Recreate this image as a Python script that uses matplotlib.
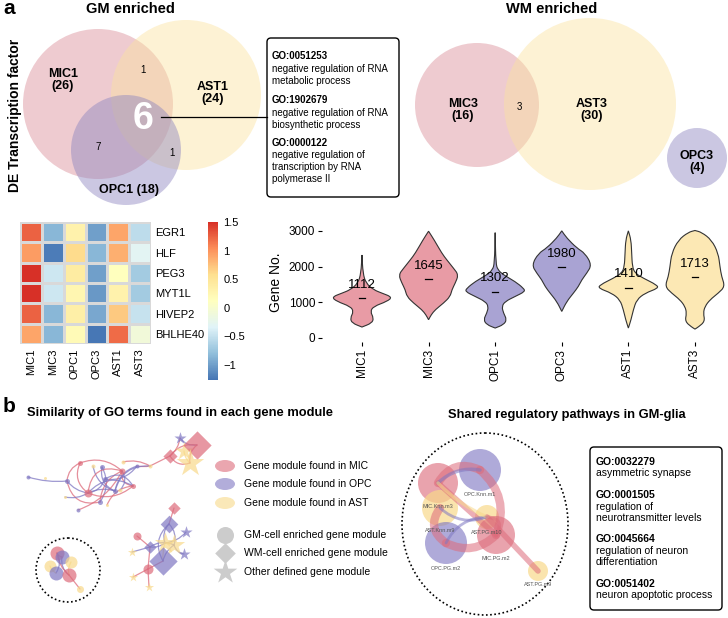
import numpy as np
import matplotlib
matplotlib.use("Agg")
import matplotlib.pyplot as plt
from matplotlib.patches import Circle, Ellipse, FancyBboxPatch, FancyArrowPatch, PathPatch
from matplotlib.path import Path
from matplotlib.colors import Normalize, LinearSegmentedColormap
import matplotlib.cm as cm

plt.rcParams['font.family'] = ['Liberation Sans', 'DejaVu Sans']

# ---------------- data ----------------
gm_sets = ["MIC1", "AST1", "OPC1"]
gm_sizes = [26, 24, 18]
gm_overlaps = {"MIC1&AST1": 1, "MIC1&OPC1": 7, "AST1&OPC1": 1, "all": 6}
wm_sets = ["MIC3", "AST3", "OPC3"]
wm_sizes = [16, 30, 4]
wm_overlap = 3
go_gm = [("GO:0051253", "negative regulation of RNA\nmetabolic process"),
         ("GO:1902679", "negative regulation of RNA\nbiosynthetic process"),
         ("GO:0000122", "negative regulation of\ntranscription by RNA\npolymerase II")]
go_shared = [("GO:0032279", "asymmetric synapse"),
             ("GO:0001505", "regulation of\nneurotransmitter levels"),
             ("GO:0045664", "regulation of neuron\ndifferentiation"),
             ("GO:0051402", "neuron apoptotic process")]

hm_genes = ["EGR1", "HLF", "PEG3", "MYT1L", "HIVEP2", "BHLHE40"]
hm_groups = ["MIC1", "MIC3", "OPC1", "OPC3", "AST1", "AST3"]
hm_values = np.array([
    [1.25, -0.85, 0.30, -1.00, 0.90, -0.55],
    [0.95, -1.22, 0.60, -0.85, 0.85, -0.30],
    [1.50, -0.45, 0.40, -1.00, 0.12, -0.70],
    [1.50, -0.45, 0.25, -1.05, 0.30, -0.70],
    [1.25, -0.85, 0.35, -0.95, 0.70, -0.50],
    [0.90, -0.85, 0.20, -1.25, 1.20, -0.10],
])
cb_ticks = [1.5, 1, 0.5, 0, -0.5, -1]
cb_ticklabels = ["1.5", "1", "0.5", "0", "\u22120.5", "\u22121"]

vio_groups = ["MIC1", "MIC3", "OPC1", "OPC3", "AST1", "AST3"]
vio_median = [1112, 1645, 1302, 1980, 1410, 1713]
# violin outlines: (gene number, half-width in 1/200 category units)
vio_profiles = [
    [(307, 0), (419, 30), (558, 35), (744, 25), (884, 35), (1023, 75), (1144, 91), (1256, 60), (1350, 35), (1535, 12), (1814, 3), (2325, 0)],
    [(512, 0), (651, 8), (791, 20), (977, 45), (1163, 65), (1349, 70), (1535, 80), (1767, 90), (1953, 75), (2185, 55), (2371, 40), (2744, 17), (2990, 0)],
    [(279, 0), (372, 25), (512, 35), (698, 25), (884, 20), (1023, 30), (1163, 60), (1302, 90), (1395, 85), (1581, 60), (1767, 25), (1907, 8), (2093, 2), (2950, 0)],
    [(744, 0), (1023, 15), (1256, 35), (1442, 50), (1628, 60), (1814, 75), (2046, 90), (2371, 70), (2520, 45), (2800, 15), (3000, 0)],
    [(279, 0), (512, 8), (791, 15), (1070, 25), (1256, 50), (1395, 90), (1488, 85), (1674, 45), (1814, 20), (2000, 12), (2371, 10), (2744, 8), (3000, 0)],
    [(250, 0), (307, 10), (465, 30), (698, 25), (884, 30), (1070, 45), (1256, 70), (1442, 90), (1721, 80), (2000, 75), (2371, 70), (2744, 50), (2960, 20), (3010, 0)],
]
vio_yticks = [0, 1000, 2000, 3000]

# network nodes: x, y (px), type, marker, radius(px)
net1_nodes = [
    (28, 477, "OPC", "o", 2), (45, 478, "AST", "o", 1.5), (67, 481, "OPC", "o", 2.5), (80, 463, "MIC", "o", 2.5),
    (65, 497, "AST", "o", 1.5), (78, 510, "OPC", "o", 2), (88, 493, "MIC", "o", 4), (93, 466, "AST", "o", 2),
    (102, 467, "OPC", "o", 2.5), (105, 479, "OPC", "o", 2.5), (100, 502, "OPC", "o", 2.5), (107, 505, "AST", "o", 1.5),
    (115, 491, "OPC", "o", 2.5), (122, 471, "MIC", "o", 3), (123, 462, "AST", "o", 2), (137, 466, "OPC", "o", 2),
    (133, 486, "MIC", "o", 2.5), (120, 490, "AST", "o", 2), (150, 466, "AST", "o", 2), (170, 456, "MIC", "D", 4),
    (180, 438, "OPC", "*", 4), (184, 451, "AST", "*", 6), (197, 445, "MIC", "D", 8), (190, 463, "AST", "*", 9),
]
net1_edges = [
    (0, 2, "OPC", 0.1), (2, 3, "MIC", -0.3), (2, 6, "OPC", 0.2), (3, 6, "MIC", 0.4), (3, 13, "MIC", -0.3),
    (6, 9, "OPC", 0.3), (6, 12, "OPC", -0.2), (6, 16, "MIC", 0.3), (2, 10, "MIC", 0.5), (8, 12, "OPC", 0.4),
    (8, 10, "OPC", -0.3), (9, 15, "OPC", 0.3), (12, 15, "OPC", -0.3), (13, 16, "MIC", 0.5), (13, 10, "MIC", 0.3),
    (14, 18, "MIC", -0.2), (15, 18, "MIC", 0.1), (18, 19, "MIC", 0.0), (19, 20, "MIC", 0.2), (19, 22, "MIC", -0.3),
    (20, 22, "OPC", 0.3), (21, 23, "AST", 0.2), (19, 23, "MIC", 0.4), (22, 23, "MIC", 0.3), (5, 13, "MIC", 0.2),
    (7, 12, "OPC", 0.3), (16, 6, "OPC", 0.4), (4, 6, "OPC", 0.2), (11, 16, "MIC", -0.3), (17, 13, "OPC", 0.4),
    (6, 13, "MIC", -0.6), (9, 16, "OPC", -0.5), (12, 18, "OPC", -0.4),
]
net2_nodes = [
    (174, 508, "MIC", "D", 3.5), (169, 524, "OPC", "D", 5), (137, 536, "MIC", "o", 4), (132, 552, "AST", "*", 3),
    (150, 547, "OPC", "D", 3.5), (165, 543, "AST", "*", 7), (174, 545, "AST", "*", 7), (186, 532, "OPC", "*", 4),
    (184, 554, "OPC", "*", 4), (163, 561, "OPC", "D", 8), (148, 569, "MIC", "o", 5), (133, 577, "AST", "*", 3),
    (149, 587, "AST", "*", 3),
]
net2_edges = [
    (0, 1, "MIC", 0.0), (1, 5, "OPC", 0.3), (1, 6, "OPC", -0.3), (2, 4, "MIC", 0.0), (3, 4, "OPC", 0.0),
    (4, 5, "OPC", 0.2), (4, 6, "OPC", -0.3), (5, 7, "OPC", 0.2), (6, 8, "OPC", 0.3), (5, 9, "AST", 0.1),
    (6, 9, "OPC", 0.2), (9, 10, "MIC", 0.0), (10, 11, "MIC", 0.0), (10, 12, "MIC", 0.0), (4, 10, "MIC", 0.0),
    (1, 9, "OPC", 0.4),
]
net3_nodes = [
    (57, 553, "MIC", "o", 7), (62, 557, "OPC", "o", 7), (71, 562, "AST", "o", 6), (50, 566, "AST", "o", 6),
    (56, 573, "OPC", "o", 7), (69, 575, "MIC", "o", 7), (80, 589, "AST", "o", 3.5),
]
net3_edges = [(0, 1, "MIC", 0.3), (1, 5, "OPC", 0.3), (0, 4, "OPC", -0.3), (3, 4, "AST", 0.2),
              (2, 5, "AST", 0.2), (5, 6, "MIC", 0.0), (0, 5, "MIC", 0.2)]
shared_nodes = [
    ("MIC.Knn.m3", 438, 483, "MIC", 20), ("OPC.Knn.m1", 480, 470, "OPC", 21), ("AST.Knn.m9", 440, 508, "AST", 18),
    ("AST.PG.m10", 487, 517, "AST", 12), ("MIC.PG.m2", 496, 535, "MIC", 19), ("OPC.PG.m2", 446, 543, "OPC", 21),
    ("AST.PG.m9", 538, 571, "AST", 10),
]
shared_edges = [
    (0, 1, "MIC", -0.45, 6), (1, 4, "MIC", -0.35, 6), (0, 4, "MIC", 0.0, 4), (3, 6, "MIC", 0.0, 4),
    (2, 5, "MIC", 0.5, 6), (5, 4, "MIC", 0.35, 6), (0, 1, "OPC", -0.25, 2.5), (2, 3, "OPC", 0.3, 2),
    (5, 3, "OPC", -0.3, 2), (0, 3, "AST", 0.1, 2.5), (4, 3, "MIC", 0.8, 2.5),
]

# ---------------- styles ----------------
W, H = 728, 618
C = {"MIC": "#DD6B7B", "OPC": "#7F77C2", "AST": "#F8D98A"}
VC = {"MIC": "#E89BA5", "OPC": "#A9A3D3", "AST": "#FCE8B4"}
hm_cmap = LinearSegmentedColormap.from_list(
    "ph", ["#4575B4", "#91BFDB", "#E0F3F8", "#FFFFBF", "#FEE090", "#FC8D59", "#D73027"])

fig = plt.figure(figsize=(W / 100, H / 100), dpi=100)


def fax(x0, y0, x1, y1):
    return [x0 / W, 1 - y1 / H, (x1 - x0) / W, (y1 - y0) / H]


ax0 = fig.add_axes([0, 0, 1, 1])
ax0.set_xlim(0, W)
ax0.set_ylim(H, 0)
ax0.axis("off")

# panel labels & titles
ax0.text(3, 9, "a", fontsize=15, fontweight="bold", va="center")
ax0.text(3, 406, "b", fontsize=15, fontweight="bold", va="center")
ax0.text(130, 9, "GM enriched", fontsize=10.5, fontweight="bold", ha="center", va="center")
ax0.text(552, 9, "WM enriched", fontsize=10.5, fontweight="bold", ha="center", va="center")
ax0.text(15, 115, "DE Transcription factor", fontsize=10, fontweight="bold", rotation=90, ha="center", va="center")
ax0.text(27, 413, "Similarity of GO terms found in each gene module", fontsize=9.3, fontweight="bold", va="center")
ax0.text(567, 415, "Shared regulatory pathways in GM-glia", fontsize=9.3, fontweight="bold", ha="center", va="center")

# GM Venn
ax0.add_patch(Circle((98, 104), 75, color="#D7848F", alpha=0.42, lw=0))
ax0.add_patch(Circle((186, 95), 75, color="#FBE3A0", alpha=0.45, lw=0))
ax0.add_patch(Circle((126, 150), 55, color="#8C84C0", alpha=0.45, lw=0))
ax0.text(63, 80, f"{gm_sets[0]}\n({gm_sizes[0]})", fontsize=9, fontweight="bold", ha="center", va="center", linespacing=1.1)
ax0.text(213, 93, f"{gm_sets[1]}\n({gm_sizes[1]})", fontsize=9, fontweight="bold", ha="center", va="center", linespacing=1.1)
ax0.text(129, 190, f"{gm_sets[2]} ({gm_sizes[2]})", fontsize=9, fontweight="bold", ha="center", va="center")
ax0.text(143, 119, str(gm_overlaps["all"]), fontsize=27, fontweight="bold", color="white", ha="center", va="center")
ax0.text(143, 70, str(gm_overlaps["MIC1&AST1"]), fontsize=7, ha="center", va="center")
ax0.text(98, 147, str(gm_overlaps["MIC1&OPC1"]), fontsize=7, ha="center", va="center")
ax0.text(172, 153, str(gm_overlaps["AST1&OPC1"]), fontsize=7, ha="center", va="center")
ax0.plot([161, 267], [117, 117], color="black", lw=0.9)
ax0.add_patch(FancyBboxPatch((267, 38), 132, 159, boxstyle="round,pad=0,rounding_size=4",
                             fc="white", ec="black", lw=1))
ys = [56, 100, 143]
for (gid, desc), y in zip(go_gm, ys):
    ax0.text(272, y, gid, fontsize=7, fontweight="bold", va="center")
    ax0.text(272, y + 7.5, desc, fontsize=7, va="top", linespacing=1.25)

# WM Venn
ax0.add_patch(Circle((477, 105), 62, color="#D7848F", alpha=0.42, lw=0))
ax0.add_patch(Circle((590, 104), 86, color="#FBE3A0", alpha=0.45, lw=0))
ax0.add_patch(Circle((697, 158), 30, color="#8C84C0", alpha=0.45, lw=0))
ax0.text(463, 110, f"{wm_sets[0]}\n({wm_sizes[0]})", fontsize=9, fontweight="bold", ha="center", va="center", linespacing=1.1)
ax0.text(592, 110, f"{wm_sets[1]}\n({wm_sizes[1]})", fontsize=9, fontweight="bold", ha="center", va="center", linespacing=1.1)
ax0.text(697, 162, f"{wm_sets[2]}\n({wm_sizes[2]})", fontsize=9, fontweight="bold", ha="center", va="center", linespacing=1.1)
ax0.text(519, 107, str(wm_overlap), fontsize=7, ha="center", va="center")

# Heatmap
axh = fig.add_axes(fax(20, 222, 151, 344))
norm = Normalize(vmin=-1.27, vmax=1.5)
axh.pcolormesh(np.arange(7), np.arange(7), hm_values, cmap=hm_cmap, norm=norm,
               edgecolors="#d9d9d9", linewidth=0.8)
axh.set_xlim(0, 6)
axh.set_ylim(6, 0)
axh.set_xticks(np.arange(6) + 0.5)
axh.set_xticklabels(hm_groups, rotation=90, fontsize=8)
axh.set_yticks(np.arange(6) + 0.5)
axh.set_yticklabels(hm_genes, fontsize=8)
axh.yaxis.tick_right()
axh.tick_params(length=0, pad=3)
for s in axh.spines.values():
    s.set_visible(False)

# Colorbar
axc = fig.add_axes(fax(208, 222, 218, 380))
cb = fig.colorbar(cm.ScalarMappable(norm=norm, cmap=hm_cmap), cax=axc)
cb.set_ticks(cb_ticks)
cb.set_ticklabels(cb_ticklabels)
cb.ax.tick_params(labelsize=8, length=0, pad=4)
cb.outline.set_visible(False)

# Violin plot
axv = fig.add_axes(fax(322, 222, 728, 342))
axv.set_xlim(0.4, 6.496)
axv.set_ylim(-112, 3248)


def smooth_closed(pts):
    pts = np.asarray(pts, float)
    n = len(pts)
    mids = (pts + np.roll(pts, -1, axis=0)) / 2
    verts = [mids[-1]]
    codes = [Path.MOVETO]
    for i in range(n):
        verts += [pts[i], mids[i]]
        codes += [Path.CURVE3, Path.CURVE3]
    return Path(verts, codes)


vio_types = ["MIC", "MIC", "OPC", "OPC", "AST", "AST"]
for i, (prof, med, t) in enumerate(zip(vio_profiles, vio_median, vio_types)):
    c = i + 1
    right = [(c + w / 200, v) for v, w in prof]
    left = [(c - w / 200, v) for v, w in prof[::-1]]
    # tips doubled so that the smoothed outline reaches them
    pts = [right[0]] + right + [right[-1]] + left[1:-1]
    axv.add_patch(PathPatch(smooth_closed(pts), fc=VC[t], ec="#333333", lw=0.8))
    axv.plot([c - 0.05, c + 0.05], [med, med], color="black", lw=0.9)
    axv.text(c, med + 370, str(med), fontsize=9.5, ha="center", va="center")
axv.set_xticks(range(1, 7))
axv.set_xticklabels(vio_groups, rotation=90, fontsize=8.5)
axv.set_yticks(vio_yticks)
axv.set_yticklabels([str(v) for v in vio_yticks], fontsize=8.5)
axv.tick_params(length=3, width=0.8, color="black", pad=2)
for s in axv.spines.values():
    s.set_visible(False)
axv.set_ylabel("Gene No.", fontsize=10, labelpad=4)


# Networks
def msize(r, m):
    k = 1.0 if m == "o" else (1.25 if m == "D" else 1.6)
    return (2 * r * 0.72 * k) ** 2


def draw_net(nodes, edges, lw=0.9, alpha=0.75):
    for a, b, t, rad in edges:
        xa, ya = nodes[a][0], nodes[a][1]
        xb, yb = nodes[b][0], nodes[b][1]
        ax0.add_patch(FancyArrowPatch((xa, ya), (xb, yb), arrowstyle="-", connectionstyle=f"arc3,rad={rad}",
                                      color=C[t], lw=lw, alpha=alpha, shrinkA=0, shrinkB=0))
    for x, y, t, m, r in nodes:
        ax0.scatter([x], [y], s=msize(r, m), marker=m, color=C[t], alpha=0.7, lw=0, zorder=3)


draw_net(net1_nodes, net1_edges)
draw_net(net2_nodes, net2_edges)
draw_net(net3_nodes, net3_edges)
ax0.add_patch(Circle((68, 570), 32, fill=False, ls=(0, (1, 1.5)), lw=1.2, ec="black"))

# legend
leg_types = ["MIC", "OPC", "AST"]
leg_y = [466, 484, 503]
for t, y in zip(leg_types, leg_y):
    ax0.add_patch(Ellipse((225, y), 20, 12, color=C[t], alpha=0.6, lw=0))
    ax0.text(244, y, f"Gene module found in {t}", fontsize=7.5, va="center")
shape_labels = ["GM-cell enriched gene module", "WM-cell enriched gene module", "Other defined gene module"]
shape_markers = ["o", "D", "*"]
shape_y = [535, 553, 572]
for lab, m, y in zip(shape_labels, shape_markers, shape_y):
    ax0.scatter([225], [y], s={"o": 150, "D": 110, "*": 320}[m], marker=m, color="#cccccc", lw=0)
    ax0.text(244, y, lab, fontsize=7.5, va="center")

# shared pathways network
ax0.add_patch(Ellipse((485, 524), 166, 182, fill=False, ls=(0, (1, 1.5)), lw=1.2, ec="black"))
for a, b, t, rad, lw in shared_edges:
    _, xa, ya, _, _ = shared_nodes[a]
    _, xb, yb, _, _ = shared_nodes[b]
    ax0.add_patch(FancyArrowPatch((xa, ya), (xb, yb), arrowstyle="-", connectionstyle=f"arc3,rad={rad}",
                                  color=C[t], lw=lw, alpha=0.55, shrinkA=0, shrinkB=0, zorder=4))
for name, x, y, t, r in shared_nodes:
    ax0.add_patch(Circle((x, y), r, color=C[t], alpha=0.62 if t != "AST" else 0.7, lw=0, zorder=3))
    ax0.text(x, y + r + 4, name, fontsize=4, color="#555555", ha="center", va="center", zorder=5)

ax0.add_patch(FancyBboxPatch((590, 447), 132, 163, boxstyle="round,pad=0,rounding_size=4",
                             fc="white", ec="black", lw=1))
ys2 = [462, 495, 539, 584]
for (gid, desc), y in zip(go_shared, ys2):
    ax0.text(596, y, gid, fontsize=7.5, fontweight="bold", va="center")
    ax0.text(596, y + 6.5, desc, fontsize=7.5, va="top", linespacing=1.2)

fig.savefig("out.png", dpi=100)
